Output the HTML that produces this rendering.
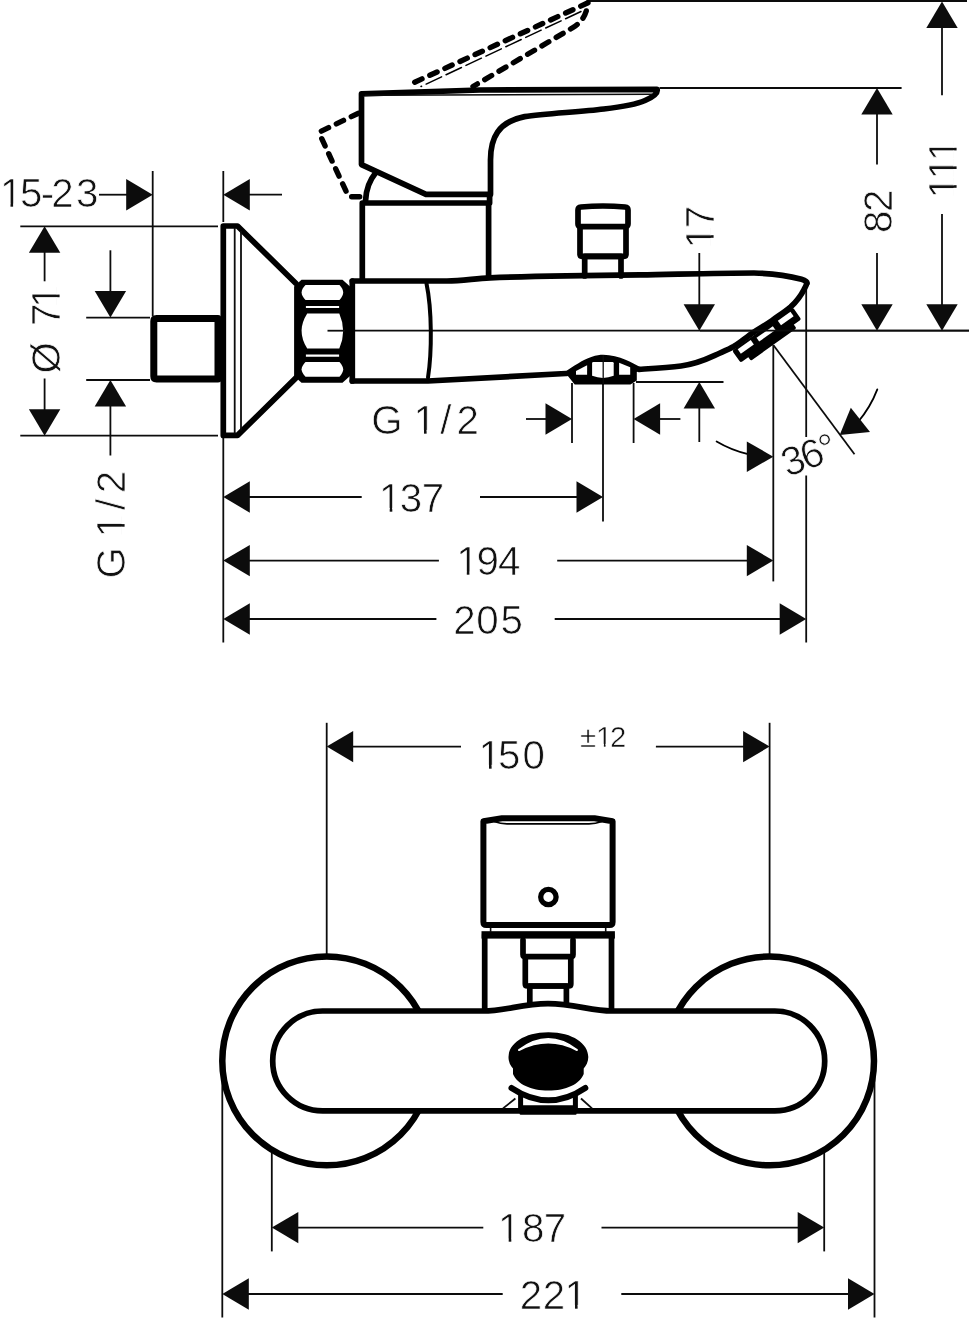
<!DOCTYPE html>
<html lang="en">
<head>
<meta charset="utf-8">
<title>Dimension drawing</title>
<style>
html,body{margin:0;padding:0;background:#fff;}
body{width:969px;height:1319px;overflow:hidden;}
svg{display:block;will-change:transform;}
.t{font-family:"Liberation Sans",sans-serif;fill:#111;stroke:#fff;stroke-width:0.7px;stroke-linejoin:round;}
.s{stroke-width:0.5px;}
.m{fill:#fff;stroke:none;}
.a{fill:#0c0c0c;stroke:none;}
.k{stroke:#000;fill:none;stroke-linejoin:round;stroke-linecap:round;}
.w{fill:#fff;}
.b{fill:#000;stroke:none;}
</style>
</head>
<body>
<svg width="969" height="1319" viewBox="0 0 969 1319">
<rect x="0" y="0" width="969" height="1319" fill="#fff"/>
<g stroke="#0c0c0c" fill="none">
<!-- side view: dimension lines -->
<line x1="99" y1="194.7" x2="128" y2="194.7" stroke-width="1.8"/>
<polygon class="a" points="152.7,194.7 126.2,179 126.2,210.4"/>
<line x1="152.7" y1="171" x2="152.7" y2="316" stroke-width="1.8"/>
<line x1="223.3" y1="171" x2="223.3" y2="222" stroke-width="1.8"/>
<polygon class="a" points="223.3,194.7 249.8,179 249.8,210.4"/>
<line x1="248" y1="194.7" x2="282" y2="194.7" stroke-width="1.8"/>
<line x1="20.3" y1="226.3" x2="218" y2="226.3" stroke-width="1.8"/>
<polygon class="a" points="44.6,226.3 28.9,252.8 60.3,252.8"/>
<line x1="44.6" y1="251" x2="44.6" y2="281.3" stroke-width="1.8"/>
<line x1="44.6" y1="378.5" x2="44.6" y2="411" stroke-width="1.8"/>
<polygon class="a" points="44.6,435.7 28.9,409.2 60.3,409.2"/>
<line x1="20.3" y1="435.7" x2="218" y2="435.7" stroke-width="1.8"/>
<line x1="110.4" y1="250.3" x2="110.4" y2="293" stroke-width="1.8"/>
<polygon class="a" points="110.4,317.6 94.7,291.1 126.1,291.1"/>
<line x1="86.2" y1="317.6" x2="150" y2="317.6" stroke-width="1.8"/>
<line x1="86.2" y1="380" x2="150" y2="380" stroke-width="1.8"/>
<polygon class="a" points="110.4,380 94.7,406.5 126.1,406.5"/>
<line x1="110.4" y1="405" x2="110.4" y2="455.5" stroke-width="1.8"/>
<line x1="223.3" y1="438" x2="223.3" y2="642.5" stroke-width="1.8"/>
<polygon class="a" points="223.3,497 249.8,481.3 249.8,512.7"/>
<line x1="248" y1="497" x2="361.7" y2="497" stroke-width="1.8"/>
<line x1="480" y1="497" x2="578" y2="497" stroke-width="1.8"/>
<polygon class="a" points="603,497 576.5,481.3 576.5,512.7"/>
<line x1="603" y1="362" x2="603" y2="521.5" stroke-width="1.8"/>
<polygon class="a" points="223.3,560.6 249.8,544.9 249.8,576.3"/>
<line x1="248" y1="560.6" x2="438.9" y2="560.6" stroke-width="1.8"/>
<line x1="557.2" y1="560.6" x2="748" y2="560.6" stroke-width="1.8"/>
<polygon class="a" points="773.3,560.6 746.8,544.9 746.8,576.3"/>
<line x1="773.3" y1="345" x2="773.3" y2="581.4" stroke-width="1.8"/>
<polygon class="a" points="223.3,619 249.8,603.3 249.8,634.7"/>
<line x1="248" y1="619" x2="436.4" y2="619" stroke-width="1.8"/>
<line x1="554.7" y1="619" x2="781" y2="619" stroke-width="1.8"/>
<polygon class="a" points="806.2,619 779.7,603.3 779.7,634.7"/>
<line x1="806.2" y1="286" x2="806.2" y2="437" stroke-width="1.8"/>
<line x1="806.2" y1="475.5" x2="806.2" y2="642.5" stroke-width="1.8"/>
<line x1="526" y1="419" x2="547" y2="419" stroke-width="1.8"/>
<polygon class="a" points="572,419 545.5,403.3 545.5,434.7"/>
<line x1="572" y1="383" x2="572" y2="443" stroke-width="1.8"/>
<line x1="633.6" y1="383" x2="633.6" y2="443" stroke-width="1.8"/>
<polygon class="a" points="633.6,419 660.1,403.3 660.1,434.7"/>
<line x1="659" y1="419" x2="680.4" y2="419" stroke-width="1.8"/>
<line x1="636" y1="382" x2="723.5" y2="382" stroke-width="1.8"/>
<polygon class="a" points="699.3,382 683.6,408.5 715,408.5"/>
<line x1="699.3" y1="407" x2="699.3" y2="442" stroke-width="1.8"/>
<line x1="699.3" y1="253" x2="699.3" y2="306" stroke-width="1.8"/>
<polygon class="a" points="699.3,330.7 683.6,304.2 715,304.2"/>
<line x1="327.5" y1="330.7" x2="969" y2="330.7" stroke-width="1.8"/>
<line x1="659.5" y1="88" x2="901.6" y2="88" stroke-width="1.8"/>
<polygon class="a" points="877,88 861.3,114.5 892.7,114.5"/>
<line x1="877" y1="113" x2="877" y2="164.5" stroke-width="1.8"/>
<line x1="877" y1="253" x2="877" y2="306" stroke-width="1.8"/>
<polygon class="a" points="877,330.7 861.3,304.2 892.7,304.2"/>
<line x1="586.5" y1="1" x2="967" y2="1" stroke-width="2"/>
<polygon class="a" points="942,1.5 926.3,28 957.7,28"/>
<line x1="942" y1="26" x2="942" y2="95.3" stroke-width="1.8"/>
<line x1="942" y1="214" x2="942" y2="305" stroke-width="1.8"/>
<polygon class="a" points="942,330.7 926.3,304.2 957.7,304.2"/>
<line x1="773.3" y1="345" x2="854.5" y2="454.3" stroke-width="1.8"/>
<path class="k" d="M877.3,389.4 A112,112 0 0 1 858,422" stroke-width="1.8"/>
<polygon class="a" points="839.7,435 850.8,407.7 870,432"/>
<path class="k" d="M716.6,441.4 A112,112 0 0 0 749,454.3" stroke-width="1.8"/>
<polygon class="a" points="773.3,456.7 746.8,441.4 746.8,472"/>
<!-- side view: fitting -->
<path class="k" d="M358.5,113.2 L320.5,131.5 Q319.3,133.5 320.5,136 L347.8,195 Q348.8,196.8 351,196.8 L360.5,196.8" stroke-width="5.4" stroke-dasharray="8 8.6" />
<path class="k" d="M588,2.8 L407.5,85.5" stroke-width="5.4" stroke-dasharray="8 8.6" />
<path class="k" d="M587,8 Q584.5,20.5 573,27.5 L473,86.5" stroke-width="5.4" stroke-dasharray="8 8.6" stroke-dashoffset="-3" />
<path class="k" d="M581,11.5 L421,86.5" stroke-width="1.5" stroke-dasharray="17 5" />
<path class="k" d="M218,318.6 H156.5 Q153.8,318.6 153.8,321.3 V376.3 Q153.8,379 156.5,379 H218 Z" stroke-width="7"/>
<path class="k" d="M223.3,226 H237.5 L296,283.5 M223.3,226 V435.4 H237.5 L296,377.9" stroke-width="5.7"/>
<line x1="234.7" y1="228" x2="234.7" y2="433.5" stroke-width="1.8"/>
<line x1="241" y1="231" x2="241" y2="430.5" stroke-width="1.8"/>
<path d="M294.1,286.5 L301.5,279.7 H342.5 L350,286.5 V376 L342.5,382.7 H301.5 L294.1,376 Z" fill="#000" stroke="none"/>
<path d="M305.5,285.1 H339.5 Q343.2,289 343.2,292.6 Q343.2,296 339.5,300 H305.5 Q301.6,296 301.6,292.6 Q301.6,289 305.5,285.1 Z" fill="#fff" stroke="none"/>
<path d="M305.9,305.9 H339.1 V308.1 H305.9 Z" fill="#fff" stroke="none"/>
<path d="M307.2,313.6 H339.3 Q347,331 339.3,348.6 H307.2 Q296,331 307.2,313.6 Z" fill="#fff" stroke="none"/>
<path d="M305.9,354.4 H339.1 V356.7 H305.9 Z" fill="#fff" stroke="none"/>
<path d="M305.5,361.9 H339.5 Q343.2,366 343.2,369.3 Q343.2,372.8 339.5,376.7 H305.5 Q301.6,372.8 301.6,369.3 Q301.6,366 305.5,361.9 Z" fill="#fff" stroke="none"/>
<line x1="327.5" y1="330.7" x2="345" y2="330.7" stroke-width="1.8"/>
<path class="k" d="M352.3,281 V381" stroke-width="5.7"/>
<path class="k" d="M352.3,281 H447 C462,280.6 475,278.6 490,277.8 C540,276 600,275.3 640,274.9 C680,274.2 720,273 754,273 C770,273.3 789,276 801.5,279.3 Q807.5,281 806.8,283.5" stroke-width="5.7"/>
<path class="k" d="M426.5,283.5 C432,310 432,352 428,377.5" stroke-width="4"/>
<path class="k" d="M362.3,279 V203 H488.6 V277 M489.6,194.3 V203" stroke-width="5.7"/>
<path class="k" d="M657,89.3 L480,90 L361.5,93.8 V164.6 L426,194.3 H490.5 V160 C490.5,138 498,122 524.6,116.6 C545,113.5 580,112 603.8,109 C625,106.5 636,104.5 645,100.5 C653,97 658.5,93.5 657,89.3 Z" stroke-width="5.7"/>
<line x1="365" y1="95.3" x2="652" y2="94.3" stroke-width="1.4"/>
<path class="k" d="M365.6,200 Q366.5,184 375.5,173" stroke-width="5.7"/>
<path class="k" d="M584.7,276 V256.3 H621 V276" stroke-width="5.7"/>
<path class="k" d="M580,226.6 V254.3 Q580,256.3 582,256.3 H624 Q626,256.3 626,254.3 V226.6" stroke-width="5.7"/>
<path class="k" d="M578,210 Q578,207.3 581,207 Q603,205 625,207 Q628,207.3 628,210 V224 Q628,226.6 625,226.6 H581 Q578,226.6 578,224 Z" stroke-width="5.7"/>
<path class="k" d="M352.3,381 H428 L566,373.5" stroke-width="5.7"/>
<path d="M564.5,372 C573,366.5 583,359.5 592,356.7 C596,355.4 600,354.8 603.2,354.8 C611,354.8 619,357 625.5,359.7 C631,362 636,364.5 641,367.5 L636.8,372 V380.5 L630.4,384.6 H574.7 L568.3,376.5 Z" fill="#000" stroke="none"/>
<path d="M576,370.9 L587.1,365.3 V374.8 H576 Z" fill="#fff" stroke="none"/>
<path d="M593.3,362 H612.5 Q613.7,362 613.7,363.2 V375.8 Q603,380 592.1,375.8 V363.2 Q592.1,362 593.3,362 Z" fill="#fff" stroke="none"/>
<path d="M619.1,362.8 L630.2,367.2 V374.8 H619.1 Z" fill="#fff" stroke="none"/>
<line x1="603.2" y1="355" x2="603.2" y2="385" stroke-width="1.3"/>
<g transform="translate(737.7 349.3) rotate(-35.5)" stroke="none">
<rect x="-5.3" y="-2" width="74.5" height="14.5" rx="2" fill="#000"/>
<rect x="4" y="9" width="56" height="8" rx="1.5" fill="#000"/>
</g>
<path class="k" d="M639,369.3 C655,368.3 668,367.6 681,366 C694,364.3 705,360 714.8,355.4 C722,352 728,349.7 733.7,346.5 C741,342 747,336.5 753.5,332.3 C760,328 766,324.8 772.1,320.5 C779,315.5 785,311.8 790.7,306.9 C796.5,301.5 801,295.5 804.2,289.2 Q806,286 806.8,283.5" stroke-width="5.7"/>
<g transform="translate(737.7 349.3) rotate(-35.5)" stroke="none">
<rect x="0" y="0" width="16" height="5.4" fill="#fff"/>
<rect x="22" y="1.6" width="20" height="4.6" fill="#fff"/>
<rect x="49.3" y="0" width="15.5" height="5.5" fill="#fff"/>
</g>
<line x1="700" y1="330.7" x2="969" y2="330.7" stroke-width="1.8"/>
<!-- front view: dimension lines -->
<line x1="326.7" y1="722.8" x2="326.7" y2="954" stroke-width="1.8"/>
<line x1="769.6" y1="722.8" x2="769.6" y2="954" stroke-width="1.8"/>
<polygon class="a" points="326.7,746.6 353.2,730.9 353.2,762.3"/>
<line x1="351" y1="746.6" x2="461" y2="746.6" stroke-width="1.8"/>
<line x1="655.9" y1="746.6" x2="745" y2="746.6" stroke-width="1.8"/>
<polygon class="a" points="769.6,746.6 743.1,730.9 743.1,762.3"/>
<line x1="222.3" y1="1065" x2="222.3" y2="1317.5" stroke-width="1.8"/>
<line x1="874.5" y1="1065" x2="874.5" y2="1317.5" stroke-width="1.8"/>
<line x1="271.8" y1="1150" x2="271.8" y2="1251.4" stroke-width="1.8"/>
<line x1="824.2" y1="1150" x2="824.2" y2="1251.4" stroke-width="1.8"/>
<polygon class="a" points="271.8,1227.6 298.3,1211.9 298.3,1243.3"/>
<line x1="296" y1="1227.6" x2="483.3" y2="1227.6" stroke-width="1.8"/>
<line x1="601.5" y1="1227.6" x2="800" y2="1227.6" stroke-width="1.8"/>
<polygon class="a" points="824.2,1227.6 797.7,1211.9 797.7,1243.3"/>
<polygon class="a" points="222.3,1294 248.8,1278.3 248.8,1309.7"/>
<line x1="247" y1="1294" x2="502.7" y2="1294" stroke-width="1.8"/>
<line x1="621.3" y1="1294" x2="850" y2="1294" stroke-width="1.8"/>
<polygon class="a" points="874.5,1294 848,1278.3 848,1309.7"/>
<!-- front view: fitting -->
<circle class="k" cx="326.7" cy="1060.9" r="104.4" stroke-width="6.5"/>
<circle class="k" cx="769.6" cy="1060.9" r="104.4" stroke-width="6.5"/>
<path class="k" d="M484.7,1011 V934.9 M611.5,1011 V934.9" stroke-width="5.7"/>
<rect x="481.5" y="931.2" width="133.4" height="7.4" fill="#000" stroke="none"/>
<line x1="490.6" y1="927" x2="490.6" y2="932" stroke-width="1.6"/>
<line x1="605.7" y1="927" x2="605.7" y2="932" stroke-width="1.6"/>
<path class="k" style="fill:#fff" stroke-width="5.7" d="M322.6,1011 H483 C505,1011 522,1003.7 548,1003.7 C574,1003.7 591,1011 612,1011 H774.8 A49.9,49.9 0 0 1 774.8,1110.8 H322.6 A49.9,49.9 0 0 1 322.6,1011 Z"/>
<path class="k" d="M483.4,821.3 L502,818.3 H594.5 L612.6,821.3 V922 Q612.6,925 609.6,925 H486.4 Q483.4,925 483.4,922 Z" stroke-width="6"/>
<path class="k" d="M495,821.8 Q500,823.8 507,823.8 H589 Q596,823.8 601,821.8" stroke-width="1.7"/>
<circle class="k" cx="548.4" cy="897" r="7.7" stroke-width="5.3"/>
<path class="k" d="M529.8,1003 V986 H566.4 V1003" stroke-width="5.7"/>
<path class="k" d="M525.3,957 V984 Q525.3,986 527.3,986 H568.8 Q570.8,986 570.8,984 V957" stroke-width="5.7"/>
<path class="k" d="M523,940 V954.6 Q523,956.6 525,956.6 H571 Q573,956.6 573,954.6 V940" stroke-width="5.7"/>
<path d="M548.4,1032.3 C573,1032.3 588.3,1044 588.3,1057 C588.3,1062 586,1066 583.7,1068.5 L583.7,1074 C580,1084 566,1090.6 548.4,1090.6 C531,1090.6 517,1084 513,1074 L513,1068.5 C510.5,1066 508.5,1062 508.5,1057 C508.5,1044 524,1032.3 548.4,1032.3 Z" fill="#000" stroke="none"/>
<path d="M519,1050 Q548.4,1028 577,1050 Q548.4,1035 519,1050 Z" fill="#fff" stroke="#fff" stroke-width="2" stroke-linejoin="round"/>
<path class="k" d="M511.5,1088 C525,1097 537,1100.3 548.4,1100.3 C560,1100.3 572,1097 585.3,1088" stroke-width="6"/>
<path class="k" d="M520.6,1096 V1110 M575.4,1096 V1110" stroke-width="5"/>
<rect x="519.6" y="1105.3" width="57" height="9.5" rx="1" fill="#000" stroke="none"/>
<line x1="503" y1="1108.4" x2="515.4" y2="1098.5" stroke-width="1.8"/>
<line x1="581" y1="1098.5" x2="592" y2="1108.4" stroke-width="1.8"/>
<!-- dimension text -->
<g transform="translate(0 207)"><text class="t" x="-0.09 19.92 40.65 51.32 75.92" y="0.4" font-size="40.3">15-23</text><rect class="m" x="1.93" y="-3.3" width="8.56" height="4.7"/><rect class="m" x="13.11" y="-3.3" width="8.06" height="4.7"/></g>
<g transform="translate(60 0) rotate(-90)"><text class="t" x="-373.42 -342.06 -326.08 -307.79" y="0.4" font-size="40.3">Ø 71</text><rect class="m" x="-305.77" y="-3.3" width="8.56" height="4.7"/><rect class="m" x="-294.59" y="-3.3" width="8.06" height="4.7"/></g>
<g transform="translate(125 0) rotate(-90)"><text class="t" x="-578.61 -547.26 -537.29 -510.04 -493.28" y="0.4" font-size="40.3">G 1/2</text><rect class="m" x="-535.27" y="-3.3" width="8.56" height="4.7"/><rect class="m" x="-524.09" y="-3.3" width="8.06" height="4.7"/></g>
<g transform="translate(0 433.2)"><text class="t" x="371.19 402.54 413.41 440.16 456.42" y="0.4" font-size="40.3">G 1/2</text><rect class="m" x="415.43" y="-3.3" width="8.56" height="4.7"/><rect class="m" x="426.61" y="-3.3" width="8.06" height="4.7"/></g>
<g transform="translate(0 511.2)"><text class="t" x="379.11 399.72 421.72" y="0.4" font-size="40.3">137</text><rect class="m" x="381.13" y="-3.3" width="8.56" height="4.7"/><rect class="m" x="392.31" y="-3.3" width="8.06" height="4.7"/></g>
<g transform="translate(0 575)"><text class="t" x="456.21 476.62 497.92" y="0.4" font-size="40.3">194</text><rect class="m" x="458.23" y="-3.3" width="8.56" height="4.7"/><rect class="m" x="469.41" y="-3.3" width="8.06" height="4.7"/></g>
<g transform="translate(0 633.6)"><text class="t" x="453.32 476.22 500.62" y="0.4" font-size="40.3">205</text></g>
<g transform="translate(714 0) rotate(-90)"><text class="t" x="-248.39 -228.28" y="0.4" font-size="40.3">17</text><rect class="m" x="-246.37" y="-3.3" width="8.56" height="4.7"/><rect class="m" x="-235.19" y="-3.3" width="8.06" height="4.7"/></g>
<g transform="translate(892 0) rotate(-90)"><text class="t" x="-232.98 -211.88" y="0.4" font-size="40.3">82</text></g>
<g transform="translate(956.8 0) rotate(-90)"><text class="t" x="-198.39 -179.59 -160.99" y="0.4" font-size="40.3">111</text><rect class="m" x="-196.37" y="-3.3" width="8.56" height="4.7"/><rect class="m" x="-185.19" y="-3.3" width="8.06" height="4.7"/><rect class="m" x="-177.57" y="-3.3" width="8.56" height="4.7"/><rect class="m" x="-166.39" y="-3.3" width="8.06" height="4.7"/><rect class="m" x="-158.97" y="-3.3" width="8.56" height="4.7"/><rect class="m" x="-147.79" y="-3.3" width="8.06" height="4.7"/></g>
<text class="t" transform="translate(788.5 476.3) rotate(-20)" x="-1.61" y="0.4" font-size="40.3" letter-spacing="-2.45">36°</text>
<g transform="translate(0 768.1)"><text class="t" x="478.41 498.02 522.42" y="0.4" font-size="40.3">150</text><rect class="m" x="480.43" y="-3.3" width="8.56" height="4.7"/><rect class="m" x="491.61" y="-3.3" width="8.06" height="4.7"/></g>
<g transform="translate(0 746.3)"><text class="t s" x="579.94 596.06 609.9" y="0.4" font-size="29.3">±12</text><rect class="m" x="597.52" y="-2.4" width="6.36" height="3.8"/><rect class="m" x="605.52" y="-2.4" width="5.86" height="3.8"/></g>
<g transform="translate(0 1242)"><text class="t" x="498.11 521.92 543.82" y="0.4" font-size="40.3">187</text><rect class="m" x="500.13" y="-3.3" width="8.56" height="4.7"/><rect class="m" x="511.31" y="-3.3" width="8.06" height="4.7"/></g>
<g transform="translate(0 1308.2)"><text class="t" x="519.72 542.82 564.41" y="0.4" font-size="40.3">221</text><rect class="m" x="566.43" y="-3.3" width="8.56" height="4.7"/><rect class="m" x="577.61" y="-3.3" width="8.06" height="4.7"/></g>
</g>
</svg>
</body>
</html>
